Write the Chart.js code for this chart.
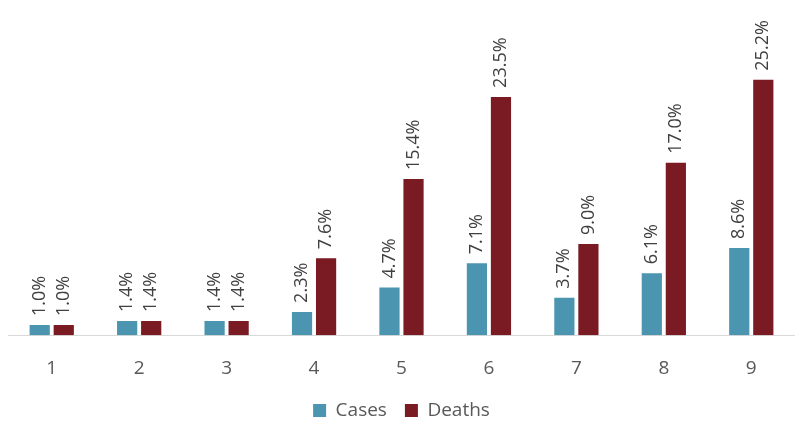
<!DOCTYPE html>
<html>
<head>
<meta charset="utf-8">
<script src="https://cdn.jsdelivr.net/npm/chart.js@4/dist/chart.umd.min.js"></script>
<style>
  html, body { margin: 0; padding: 0; background: #fff; }
  #wrap { width: 795px; height: 421px; }
</style>
</head>
<body>
<div id="wrap"><canvas id="chart"></canvas></div>
<script>
const categories = ['1', '2', '3', '4', '5', '6', '7', '8', '9'];
const casesPct = [1.0, 1.4, 1.4, 2.3, 4.7, 7.1, 3.7, 6.1, 8.6];
const deathsPct = [1.0, 1.4, 1.4, 7.6, 15.4, 23.5, 9.0, 17.0, 25.2];

const CASES_COLOR = '#4b95b0';
const DEATHS_COLOR = '#7a1a23';
const FONT = '"Open Sans", "Noto Sans", sans-serif';

// rotated value labels above each bar
const barLabels = {
  id: 'barLabels',
  afterDatasetsDraw(chart) {
    const ctx = chart.ctx;
    ctx.save();
    ctx.font = '18px ' + FONT;
    ctx.fillStyle = '#404040';
    ctx.textAlign = 'left';
    ctx.textBaseline = 'middle';
    chart.data.datasets.forEach((ds, i) => {
      chart.getDatasetMeta(i).data.forEach((bar, j) => {
        ctx.save();
        ctx.translate(bar.x, bar.y - 9);
        ctx.rotate(-Math.PI / 2);
        ctx.fillText(ds.data[j].toFixed(1) + '%', 0, 0);
        ctx.restore();
      });
    });
    ctx.restore();
  }
};

new Chart(document.getElementById('chart').getContext('2d'), {
  type: 'bar',
  data: {
    labels: categories,
    datasets: [
      { label: 'Cases', data: casesPct, backgroundColor: CASES_COLOR },
      { label: 'Deaths', data: deathsPct, backgroundColor: DEATHS_COLOR }
    ]
  },
  options: {
    responsive: true,
    maintainAspectRatio: false,
    animation: false,
    categoryPercentage: 0.55,
    barPercentage: 0.84,
    layout: { padding: { left: 8, right: 0, top: 31, bottom: -9 } },
    scales: {
      x: {
        grid: { display: false, drawTicks: false },
        border: { color: '#d9d9d9', width: 1 },
        ticks: {
          color: '#595959',
          padding: 22,
          font: { size: 19, family: FONT }
        },
        afterFit(scale) { scale.height -= 19; }
      },
      y: {
        display: false,
        min: 0,
        max: 30
      }
    },
    plugins: {
      legend: {
        position: 'bottom',
        labels: {
          color: '#595959',
          boxWidth: 13,
          boxHeight: 13,
          padding: 18,
          font: { size: 19, family: FONT }
        }
      },
      tooltip: { enabled: false }
    }
  },
  plugins: [barLabels]
});
</script>
</body>
</html>
